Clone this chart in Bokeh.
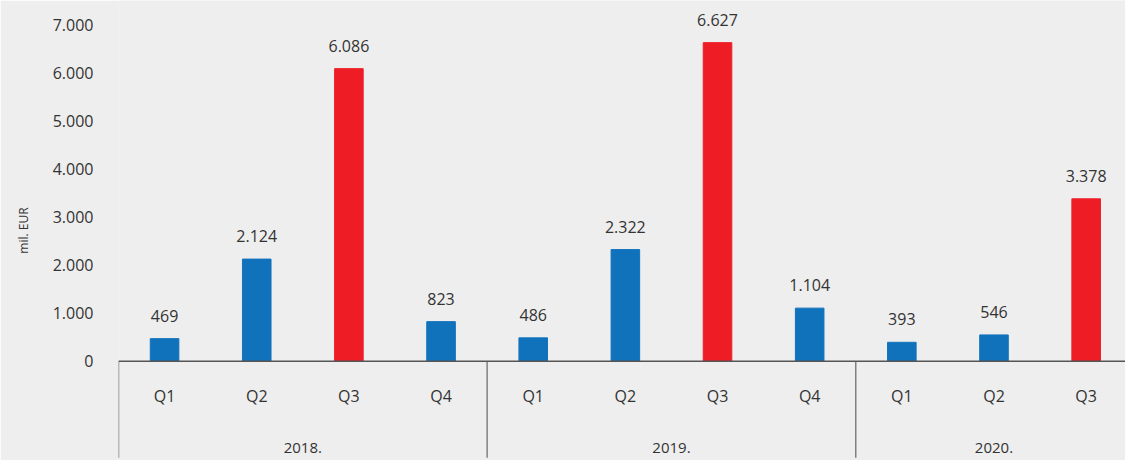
import numpy as np
from bokeh.plotting import figure
from bokeh.models import Range1d, FixedTicker, Span, ColumnDataSource
from bokeh.core.properties import value
from bokeh.embed import file_html
from bokeh.resources import INLINE

# ---- data ----
years = ["2018.", "2018.", "2018.", "2018.",
         "2019.", "2019.", "2019.", "2019.",
         "2020.", "2020.", "2020."]
quarters = ["Q1", "Q2", "Q3", "Q4", "Q1", "Q2", "Q3", "Q4", "Q1", "Q2", "Q3"]
values = [469, 2124, 6086, 823, 486, 2322, 6627, 1104, 393, 546, 3378]
y_ticks = [0, 1000, 2000, 3000, 4000, 5000, 6000, 7000]
y_tick_labels = ["0", "1.000", "2.000", "3.000", "4.000", "5.000", "6.000", "7.000"]
y_title = "mil. EUR"
highlight_quarter = "Q3"

# ---- styling ----
FONT = "Open Sans"
BG = "#eeeeee"
TXT = "#333333"
BLUE = "#1172bc"
RED = "#ee1d25"

n = len(values)
xpos = np.arange(n) + 0.5
colors = [RED if q == highlight_quarter else BLUE for q in quarters]
labels = [f"{v:,}".replace(",", ".") for v in values]

src = ColumnDataSource(dict(x=xpos, top=values, color=colors, label=labels,
                            q=quarters))

p = figure(width=1125, height=460, output_backend="svg", toolbar_location=None,
           x_range=Range1d(0, 10.927), y_range=Range1d(-2066, 7504),
           x_axis_location=None, min_border_left=118, min_border_right=0,
           min_border_top=0, min_border_bottom=0)
p.background_fill_color = BG
p.border_fill_color = BG
p.outline_line_color = None
p.xgrid.visible = False
p.ygrid.visible = False

yax = p.yaxis[0]
yax.ticker = FixedTicker(ticks=y_ticks)
yax.major_label_overrides = {t: l for t, l in zip(y_ticks, y_tick_labels)}
yax.axis_line_color = None
yax.major_tick_line_color = None
yax.minor_tick_line_color = None
yax.major_tick_out = 0
yax.major_label_standoff = 25
yax.major_label_text_font = FONT
yax.major_label_text_font_size = "16px"
yax.major_label_text_color = TXT
yax.axis_label = y_title
yax.axis_label_text_font = FONT
yax.axis_label_text_font_size = "12px"
yax.axis_label_text_font_style = "normal"
yax.axis_label_text_color = TXT
yax.axis_label_standoff = 18

p.vbar(x="x", top="top", bottom=0, width=0.31, color="color", source=src)

p.add_layout(Span(location=0, dimension="width", line_color="#555555",
                  line_width=1.5))

# group separators
starts = [i for i in range(n) if i == 0 or years[i] != years[i - 1]]
p.segment(x0=starts, y0=[0] * len(starts), x1=starts, y1=[-2010] * len(starts),
          line_color="#808080", line_width=1.5)

# value labels
p.text(x="x", y="top", text="label", source=src, text_align="center",
       text_baseline="middle", y_offset=-23, text_font=value(FONT),
       text_font_size="16px", text_color=TXT)

# quarter labels
p.text(x="x", y=-734, text="q", source=src, text_align="center",
       text_baseline="middle", text_font=value(FONT), text_font_size="16px",
       text_color=TXT)

# year labels
uyears = list(dict.fromkeys(years))
ycent = [float(np.mean([xpos[i] for i in range(n) if years[i] == y])) for y in uyears]
p.text(x=ycent, y=[-1800] * len(uyears), text=uyears, text_align="center",
       text_baseline="middle", text_font=value(FONT), text_font_size="15px",
       text_color=TXT)

open("out.html", "w").write(file_html(p, INLINE))
